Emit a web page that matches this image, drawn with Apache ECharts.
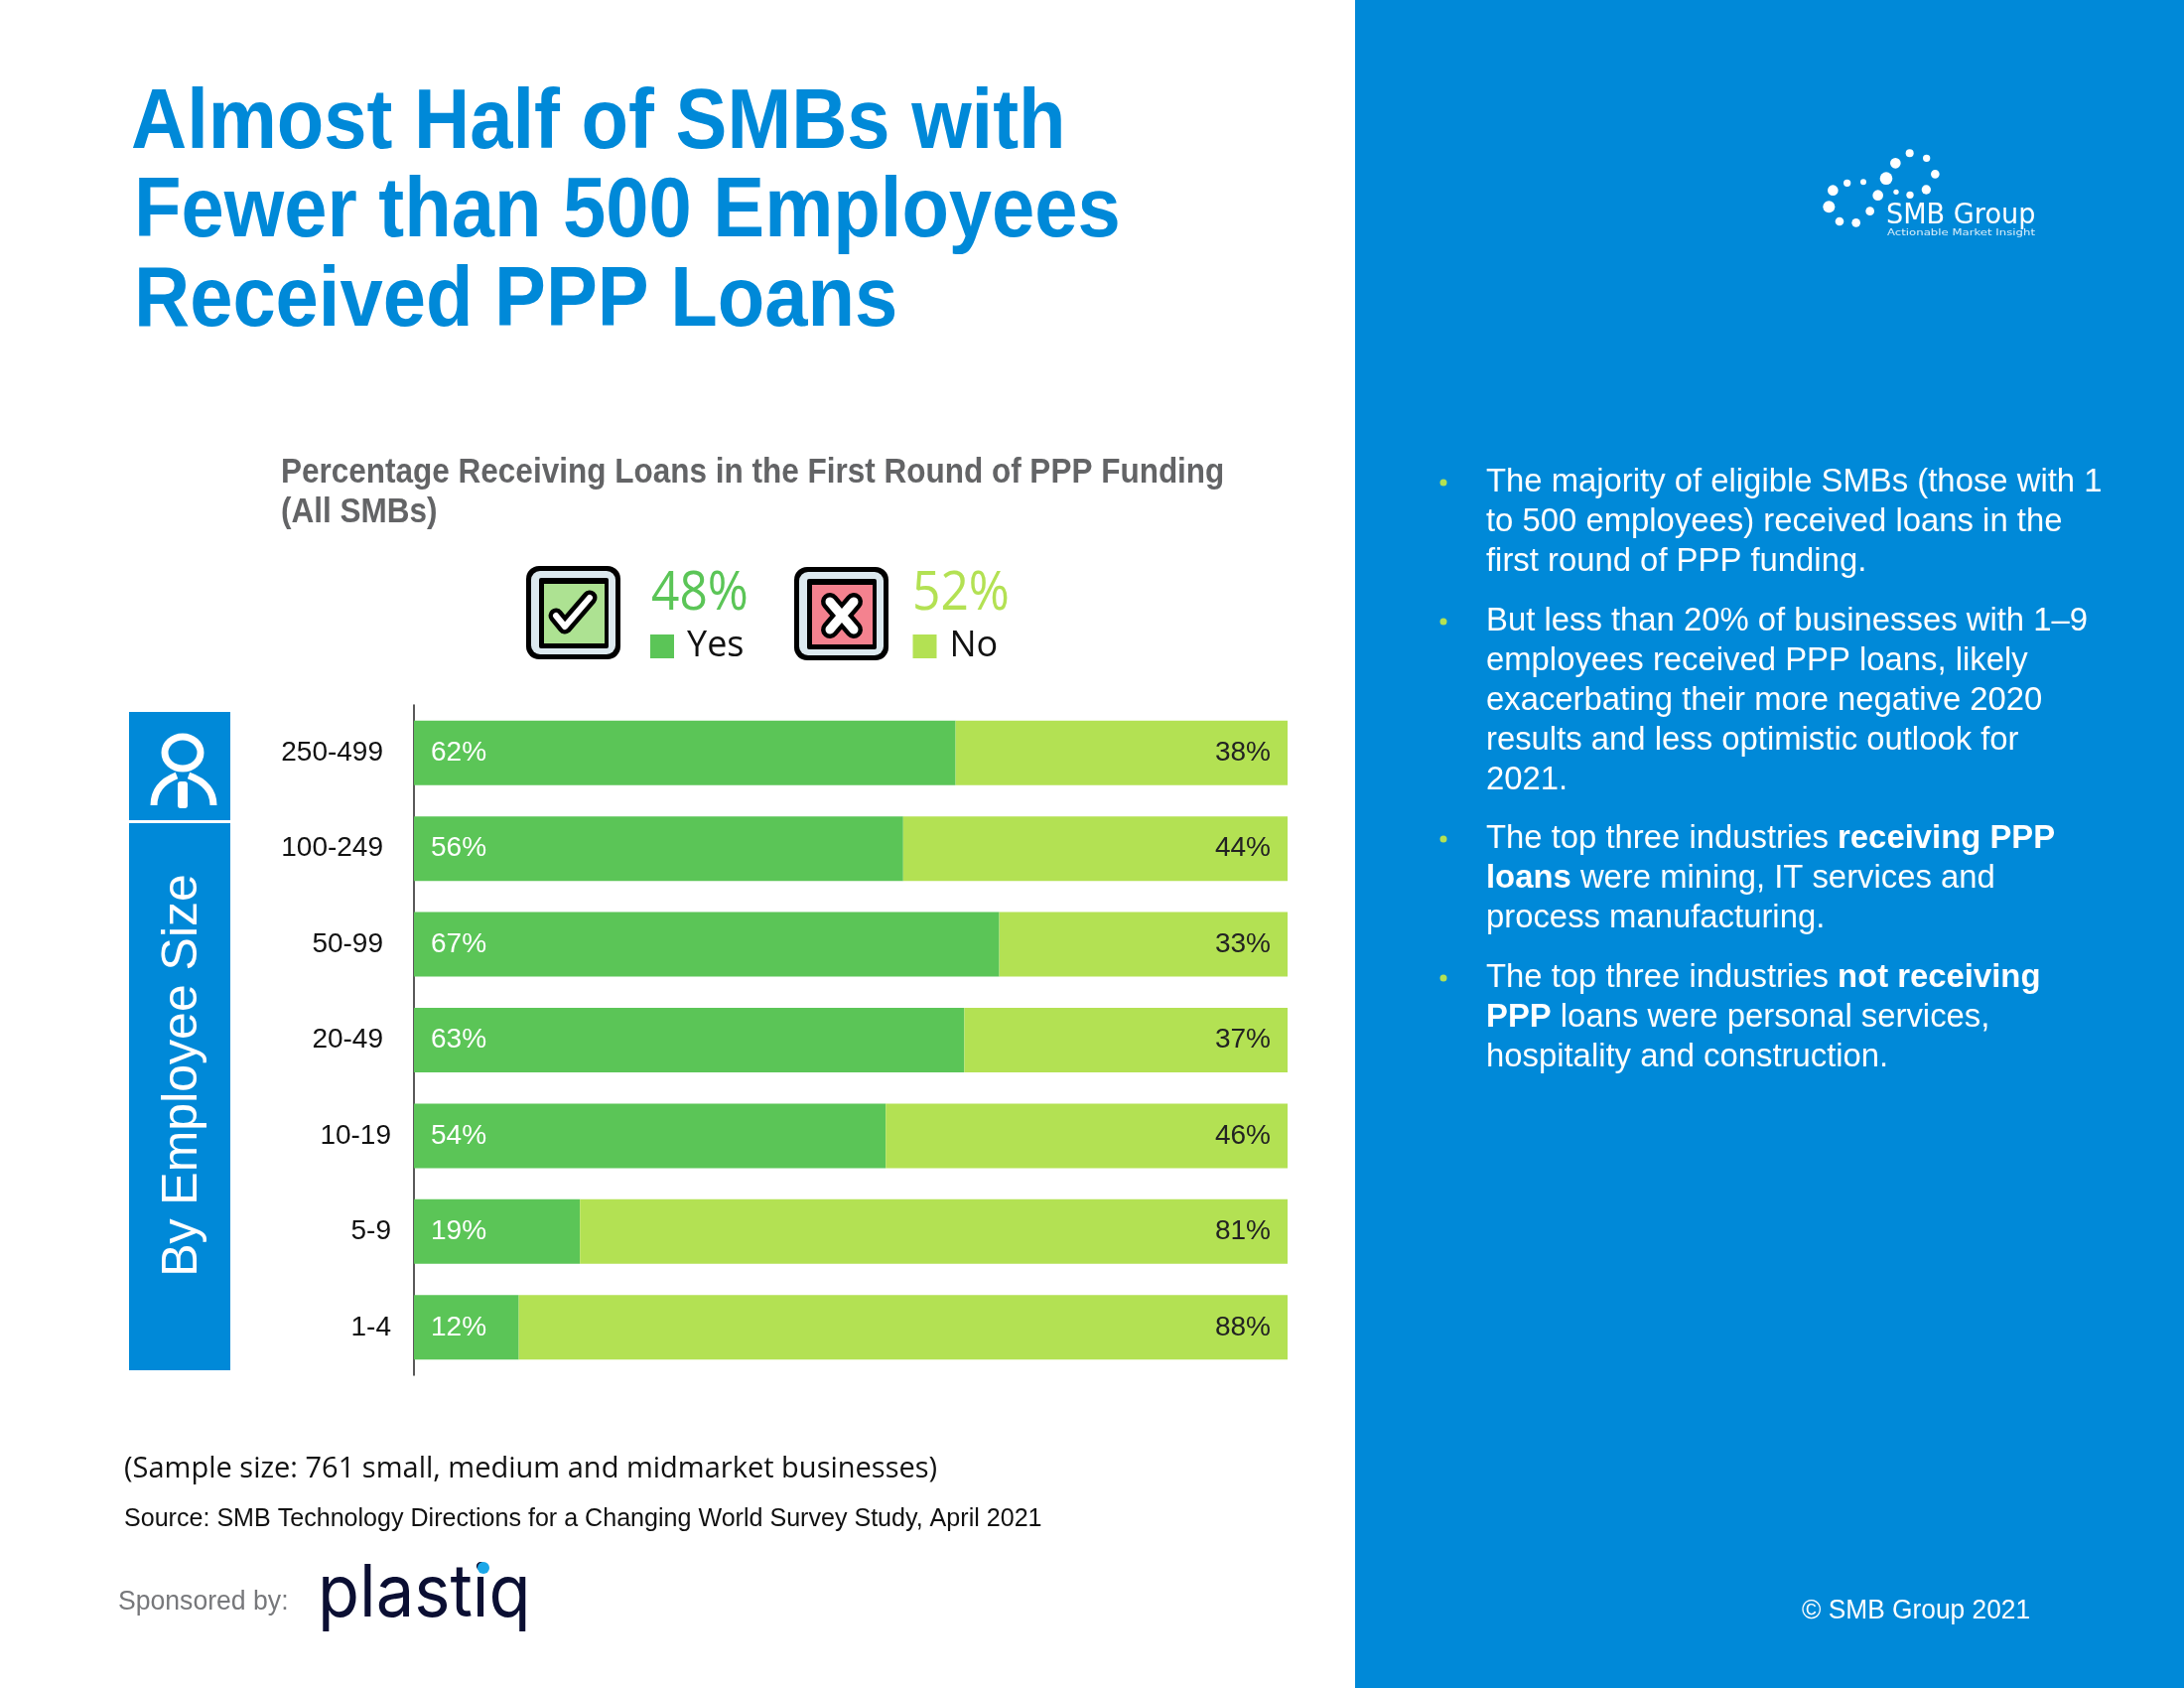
<!DOCTYPE html>
<html>
<head>
  <meta charset="utf-8">
  <title>PPP Loans by Employee Size</title>
  <script src="https://cdn.jsdelivr.net/npm/echarts@6/dist/echarts.min.js"></script>
  <style type="text/css">
    html, body { margin: 0; padding: 0; background: #fff; }
    #chart { width: 2200px; height: 1700px; }
  </style>
</head>
<body>
<div id="chart"></div>
<script>
  // 数据
  var categories = ['250-499', '100-249', '50-99', '20-49', '10-19', '5-9', '1-4'];
  var yesValues = [62, 56, 67, 63, 54, 19, 12];
  var noValues = [38, 44, 33, 37, 46, 81, 88];
  var titleLines = ['Almost Half of SMBs with', 'Fewer than 500 Employees', 'Received PPP Loans'];
  var subtitleLines = ['Percentage Receiving Loans in the First Round of PPP Funding', '(All SMBs)'];
  var overallYes = '48%';
  var overallNo = '52%';
  var bullets = [
    ['The majority of eligible SMBs (those with 1', 'to 500 employees) received loans in the', 'first round of PPP funding.'],
    ['But less than 20% of businesses with 1\u20139', 'employees received PPP loans, likely', 'exacerbating their more negative 2020', 'results and less optimistic outlook for', '2021.'],
    ['The top three industries {b|receiving PPP}', '{b|loans} were mining, IT services and', 'process manufacturing.'],
    ['The top three industries {b|not receiving}', '{b|PPP} loans were personal services,', 'hospitality and construction.']
  ];

  var BLUE = '#0089D8';
  var GREEN = '#5BC557';
  var LIME = '#B3E153';
  var ARIAL = '"Liberation Sans", Arial, sans-serif';
  var CALIBRI = '"Open Sans", sans-serif';

  var g = [];

  // 文字
  function addText(text, x, y, size, color, opt) {
    opt = opt || {};
    g.push({
      type: 'text', x: x, y: y, scaleX: opt.sx || 1, rotation: opt.rot || 0,
      style: {
        text: text, x: 0, y: 0, fill: color, fontSize: size,
        fontFamily: opt.font || ARIAL, fontWeight: opt.bold ? 'bold' : 'normal',
        textAlign: opt.align || 'left', textVerticalAlign: 'middle', rich: opt.rich
      }
    });
  }
  function addRect(x, y, w, h, fill, r) {
    g.push({type: 'rect', shape: {x: x, y: y, width: w, height: h, r: r || 0}, style: {fill: fill}});
  }
  function addPolyline(points, color, width) {
    g.push({type: 'polyline', shape: {points: points}, style: {stroke: color, lineWidth: width, fill: null, lineJoin: 'round', lineCap: 'round'}});
  }

  // 右侧蓝色面板
  addRect(1365, 0, 835, 1700, BLUE);

  // 标题
  titleLines.forEach(function (t, i) {
    addText(t, i === 0 ? 132 : 135, 125 + i * 89.5, 86, BLUE, {bold: true, sx: 0.904});
  });
  subtitleLines.forEach(function (t, i) {
    addText(t, 283, 476 + i * 40, 35, '#636466', {bold: true, sx: 0.9});
  });

  // 图标：打勾、打叉
  function addBox(x, y, fill) {
    addRect(x, y, 95, 94, '#000', 13);
    addRect(x + 5, y + 5, 85, 84, '#DCE9EF', 9);
    addRect(x + 13, y + 12, 70, 71, '#000', 2);
    addRect(x + 18, y + 18, 61, 60, fill);
  }
  addBox(530, 570, '#ADE292');
  addPolyline([[560, 620], [569, 631], [594, 602]], '#000', 15);
  addPolyline([[560, 620], [569, 631], [594, 602]], '#fff', 6);
  addBox(800, 571, '#F4828F');
  addPolyline([[836, 606], [860, 634]], '#000', 18);
  addPolyline([[860, 606], [836, 634]], '#000', 18);
  addPolyline([[836, 606], [860, 634]], '#fff', 9);
  addPolyline([[860, 606], [836, 634]], '#fff', 9);
  addText(overallYes, 656, 599, 54, GREEN, {font: CALIBRI, sx: 0.92});
  addText(overallNo, 919, 599, 54, LIME, {font: CALIBRI, sx: 0.92});

  // 左侧蓝色标签
  addRect(130, 717, 102, 109, BLUE);
  addRect(130, 829, 102, 551, BLUE);
  g.push({type: 'ellipse', shape: {cx: 184, cy: 758, rx: 18, ry: 16}, style: {stroke: '#fff', lineWidth: 7, fill: null}});
  g.push({type: 'bezierCurve', shape: {x1: 155, y1: 811, cpx1: 155, cpy1: 790, x2: 178, y2: 781}, style: {stroke: '#fff', lineWidth: 7, fill: null}});
  g.push({type: 'bezierCurve', shape: {x1: 215, y1: 811, cpx1: 215, cpy1: 790, x2: 190, y2: 781}, style: {stroke: '#fff', lineWidth: 7, fill: null}});
  addRect(179, 787, 10, 27, '#fff', 3);
  addText('By Employee Size', 184, 1083, 50, '#fff', {rot: Math.PI / 2, align: 'center'});

  // 脚注
  addText('(Sample size: 761 small, medium and midmarket businesses)', 125, 1479, 30, '#111', {font: CALIBRI, sx: 0.967});
  addText('Source: SMB Technology Directions for a Changing World Survey Study, April 2021', 125, 1530, 25, '#111', {sx: 1.003});
  addText('Sponsored by:', 119, 1613, 28, '#77787B', {sx: 0.95});
  addText('plastiq', 320, 1606, 73, '#0B0F33', {font: 'Inter, sans-serif', sx: 0.94});
  g.push({type: 'circle', shape: {cx: 487, cy: 1579, r: 6}, style: {fill: '#1AA7E8'}});

  // SMB Group 标志
  var logoDots = [[187, 265, 18], [199, 215, 16], [242, 193, 11], [291, 190, 9], [219, 309, 13], [269, 313, 13], [311, 278, 13], [335, 230, 16], [360, 179, 19], [388, 133, 16], [431, 103, 12], [482, 118, 11], [508, 166, 13], [481, 213, 14], [432, 229, 11], [390, 220, 8]];
  logoDots.forEach(function (d) {
    g.push({type: 'circle', shape: {cx: 1780 + d[0] / 3, cy: 120 + d[1] / 3, r: d[2] / 3}, style: {fill: '#fff'}});
  });
  addText('SMB Group', 1900, 217, 29, '#fff', {font: '"DejaVu Sans", sans-serif', sx: 0.935});
  addText('Actionable Market Insight', 1901, 235, 9, '#DCEFFA', {font: '"DejaVu Sans", sans-serif', sx: 1.3});

  // 右侧要点
  var bulletTops = [486, 626, 845, 985];
  bullets.forEach(function (lines, p) {
    g.push({type: 'circle', shape: {cx: 1454, cy: bulletTops[p], r: 3.5}, style: {fill: LIME}});
    lines.forEach(function (line, i) {
      addText(line, 1497, bulletTops[p] + i * 40, 33, '#fff', {
        sx: 0.995,
        rich: {b: {fontWeight: 'bold', fontSize: 33, fontFamily: ARIAL, fill: '#fff'}}
      });
    });
  });
  addText('\u00A9 SMB Group 2021', 1815, 1623, 27, '#fff', {sx: 0.975});

  // 条形图
  var chart = echarts.init(document.getElementById('chart'));
  chart.setOption({
    backgroundColor: '#fff',
    animation: false,
    textStyle: {fontFamily: ARIAL},
    legend: {
      left: 650, top: 628, itemWidth: 24, itemHeight: 24, itemGap: 170,
      icon: 'rect', data: ['Yes', 'No'],
      textStyle: {fontSize: 36, fontFamily: CALIBRI, color: '#111', padding: [0, 0, 0, 8]}
    },
    grid: {left: 417, right: 903, top: 710, height: 675, containLabel: false},
    xAxis: {type: 'value', min: 0, max: 100, show: false},
    yAxis: {
      type: 'category', inverse: true, data: categories,
      axisLine: {lineStyle: {color: '#222', width: 1.5}},
      axisTick: {show: false},
      axisLabel: {
        margin: 23,
        formatter: function (value, i) { return (i < 4 ? '{a|' : '{b|') + value + '}'; },
        rich: {
          a: {fontSize: 28, fontFamily: ARIAL, color: '#111', padding: [1, 8, 1, 0]},
          b: {fontSize: 28, fontFamily: ARIAL, color: '#111', padding: [1, 0, 1, 0]}
        }
      }
    },
    series: [
      {
        name: 'Yes', type: 'bar', stack: 'total', barWidth: 65, data: yesValues,
        itemStyle: {color: GREEN},
        label: {show: true, position: 'insideLeft', distance: 17, fontSize: 28, color: '#fff', padding: [5, 0, 0, 0], formatter: '{c}%'}
      },
      {
        name: 'No', type: 'bar', stack: 'total', barWidth: 65, data: noValues,
        itemStyle: {color: LIME},
        label: {show: true, position: 'insideRight', distance: 17, fontSize: 28, color: '#222', padding: [5, 0, 0, 0], formatter: '{c}%'}
      }
    ],
    graphic: {elements: g}
  });
</script>
</body>
</html>
